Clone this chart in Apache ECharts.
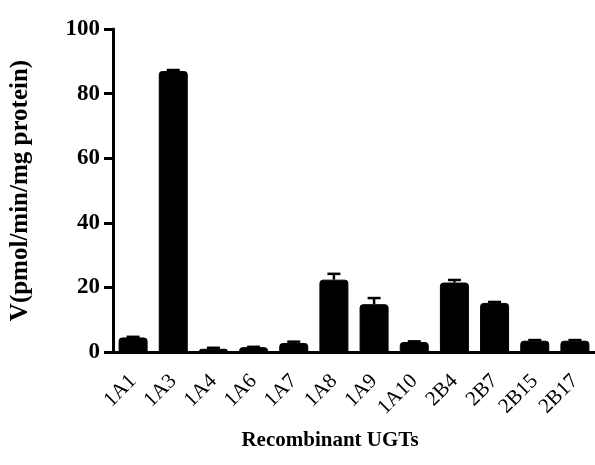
<!DOCTYPE html>
<html>
<head>
<meta charset="utf-8">
<script src="https://cdn.jsdelivr.net/npm/echarts@6/dist/echarts.min.js"></script>
<style>
    html, body { margin: 0; padding: 0; background: #fff; }
    #chart { width: 595px; height: 465px; }
</style>
</head>
<body>
<div id="chart"></div>
<script>
// data
const categories = ['1A1', '1A3', '1A4', '1A6', '1A7', '1A8', '1A9', '1A10', '2B4', '2B7', '2B15', '2B17'];
const rates = [4.5, 87.0, 1.0, 1.5, 2.8, 22.4, 14.8, 3.1, 21.5, 15.2, 3.5, 3.5];
const errors = [0.2, 0.3, 0.3, 0.1, 0.4, 1.8, 1.9, 0.2, 0.8, 0.3, 0.2, 0.2];
const yTicks = { min: 0, max: 100, step: 20 };

const serif = '"Liberation Serif", "Times New Roman", serif';

const chart = echarts.init(document.getElementById('chart'));

chart.setOption({
    animation: false,
    grid: { left: 113, right: -5, top: 29, bottom: 113 },
    xAxis: {
        type: 'category',
        data: categories,
        name: 'Recombinant UGTs',
        nameLocation: 'middle',
        nameGap: 78,
        nameTextStyle: {
            fontFamily: serif, fontWeight: 'bold', fontSize: 21, color: '#000',
            padding: [0, 48, 0, 0]
        },
        axisLine: { lineStyle: { color: '#000', width: 3 } },
        axisTick: { alignWithLabel: true, interval: 0, length: 8, lineStyle: { color: '#000', width: 3 } },
        axisLabel: {
            interval: 0, hideOverlap: false,
            rotate: 45, margin: 26, color: '#000',
            fontFamily: serif, fontSize: 21
        }
    },
    yAxis: {
        type: 'value',
        min: yTicks.min,
        max: yTicks.max,
        interval: yTicks.step,
        name: 'V(pmol/min/mg protein)',
        nameLocation: 'middle',
        nameGap: 80,
        nameTextStyle: { fontFamily: serif, fontWeight: 'bold', fontSize: 25, color: '#000' },
        axisLine: { show: true, lineStyle: { color: '#000', width: 3 } },
        axisTick: { show: true, length: 9, lineStyle: { color: '#000', width: 3 } },
        axisLabel: { margin: 13, color: '#000', fontFamily: serif, fontWeight: 'bold', fontSize: 23 },
        splitLine: { show: false }
    },
    series: [
        {
            type: 'bar',
            data: rates,
            barWidth: 29,
            itemStyle: { color: '#000', borderColor: '#000', borderWidth: 1, borderRadius: [3, 3, 0, 0] }
        },
        {
            // upper error bars
            type: 'custom',
            data: rates.map((v, i) => [i, v, v + errors[i]]),
            renderItem: (params, api) => {
                const base = api.coord([api.value(0), api.value(1)]);
                const top = api.coord([api.value(0), api.value(2)]);
                const half = 6.5;
                const style = { stroke: '#000', lineWidth: 2.5 };
                return {
                    type: 'group',
                    children: [
                        { type: 'line', shape: { x1: base[0], y1: base[1], x2: top[0], y2: top[1] }, style },
                        { type: 'line', shape: { x1: top[0] - half, y1: top[1], x2: top[0] + half, y2: top[1] }, style }
                    ]
                };
            },
            z: 3
        }
    ]
});
</script>
</body>
</html>
